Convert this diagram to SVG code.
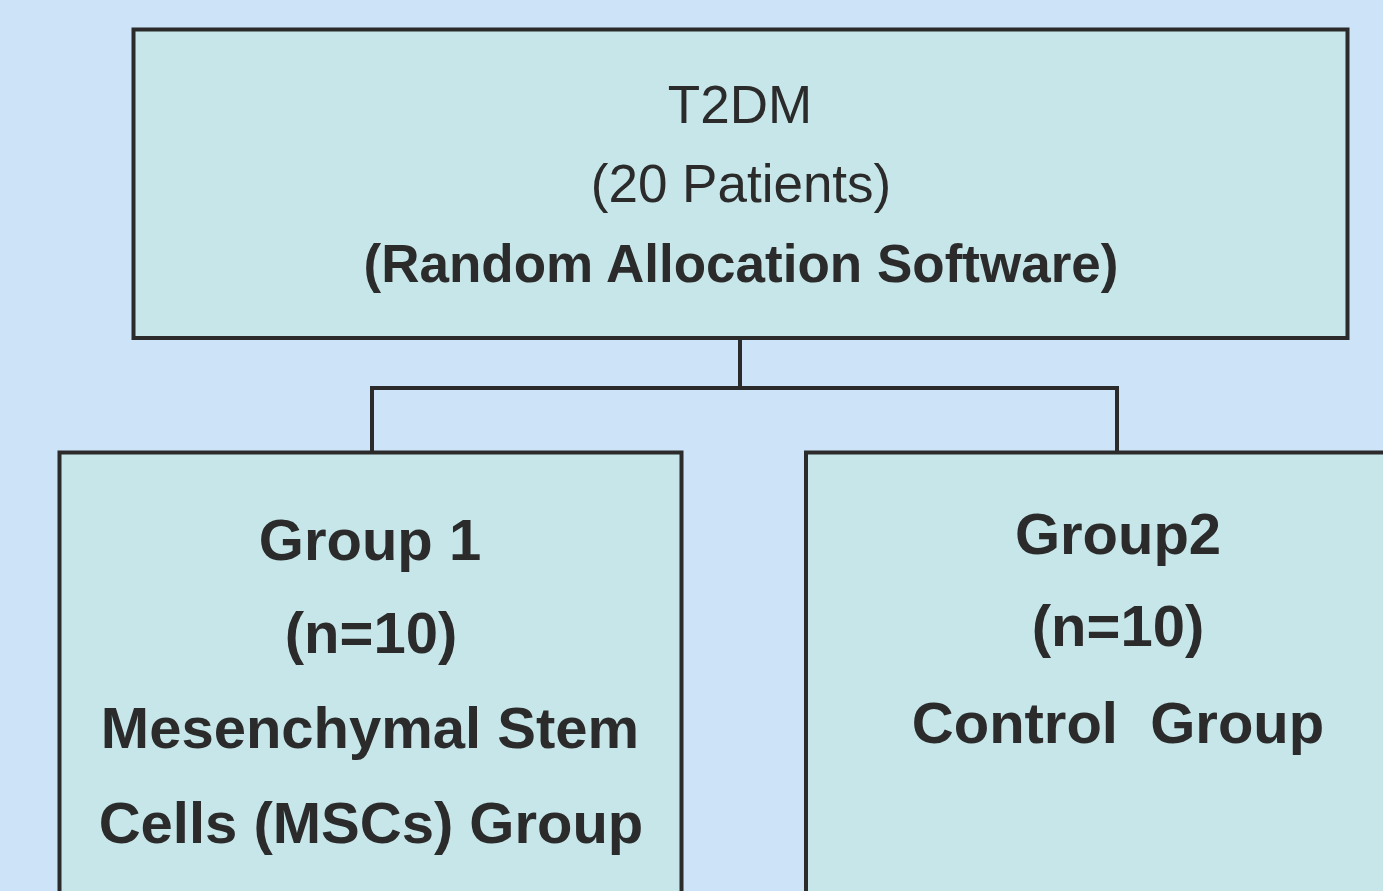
<svg xmlns="http://www.w3.org/2000/svg" width="1383" height="891" viewBox="0 0 1383 891">
<style>
.box{fill:#c6e6e9;stroke:#2b2b2b;stroke-width:4}
.conn{fill:none;stroke:#2b2b2b;stroke-width:4}
.t{font-family:"Liberation Sans",Arial,sans-serif;fill:#2b2b2b;text-anchor:middle}
.r{font-size:53px}
.b{font-size:53px;font-weight:bold}
.g{font-size:58px;font-weight:bold}
</style>
<rect width="1383" height="891" fill="#cde3f7"/>
<g id="connectors">
<path class="conn" d="M740 338 V388 M372 452 V388 H1117 V452"/>
</g>
<g id="top">
<rect class="box" x="133.5" y="29.5" width="1214" height="308.5"/>
<text class="t r" x="740" y="123">T2DM</text>
<text class="t r" x="741" y="202">(20 Patients)</text>
<text class="t b" x="741" y="282">(Random Allocation Software)</text>
</g>
<g id="group1">
<rect class="box" x="59.5" y="452.5" width="622" height="460"/>
<text class="t g" x="370" y="560">Group 1</text>
<text class="t g" x="371" y="653">(n=10)</text>
<text class="t g" x="370" y="748">Mesenchymal Stem</text>
<text class="t g" x="371" y="843">Cells (MSCs) Group</text>
</g>
<g id="group2">
<rect class="box" x="806" y="452.5" width="650" height="460"/>
<text class="t g" x="1118" y="554">Group2</text>
<text class="t g" x="1118" y="646">(n=10)</text>
<text class="t g" x="1118" y="743" xml:space="preserve">Control  Group</text>
</g>
</svg>
